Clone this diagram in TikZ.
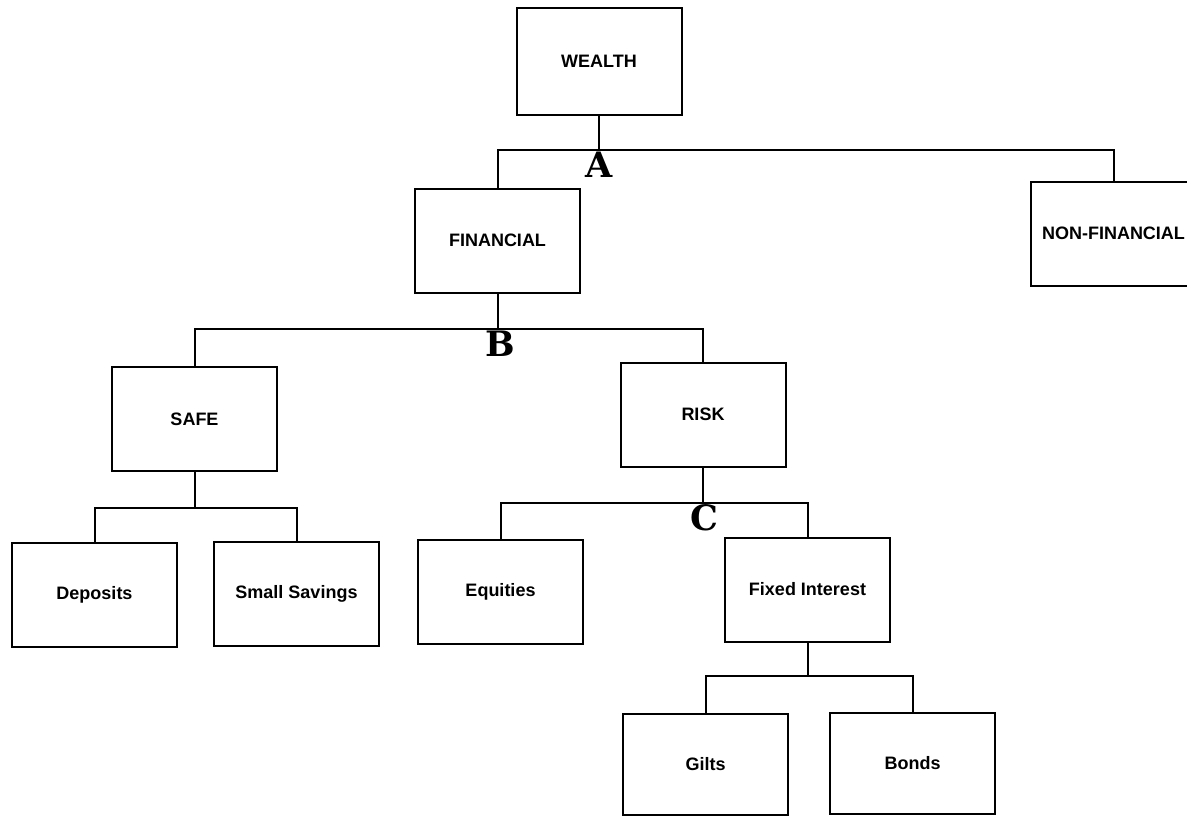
\documentclass[tikz,border=0pt]{standalone}
\usepackage{fontspec}
\setsansfont{Liberation Sans}
\newfontfamily\letterfont{DejaVu Serif}
\usetikzlibrary{positioning}

\begin{document}
\begin{tikzpicture}[x=1pt, y=-1pt, line width=2pt,
		box/.style={draw, line width=2pt, minimum width=165pt, minimum height=104pt,
			font=\sffamily\bfseries\fontsize{18}{21}\selectfont},
		letter/.style={font=\letterfont\bfseries\fontsize{35}{40}\selectfont, inner sep=1pt}]
			%%%%% START %%%%%
			
			\clip (0, 0) rectangle (1187, 817);
			
			\node[box, minimum height=107pt] (wealth) at (599, 61.5) {WEALTH};
			\node[box] (financial) at (497.5, 240.5) {FINANCIAL};
			\node[box] (nonfin) at (1113.5, 233.5) {NON-FINANCIAL};
			
			\node[box] (safe) at (194.5, 419) {SAFE};
			\node[box] (risk) at (703, 414.5) {RISK};
			
			\node[box] (deposits) at (94.5, 595) {Deposits};
			\node[box] (smallsav) at (296.5, 593.5) {Small Savings};
			\node[box] (equities) at (500.5, 591.5) {Equities};
			\node[box] (fixed) at (807.5, 589.5) {Fixed Interest};
			
			\node[box, minimum height=101pt] (gilts) at (705.5, 764.5) {Gilts};
			\node[box, minimum height=101pt] (bonds) at (912.5, 763.5) {Bonds};
			
			% bus lines
			\coordinate (busA) at (599, 150);
			\coordinate (busB) at (497.5, 329);
			\coordinate (busC) at (704, 503);
			\coordinate (busSafe) at (194.5, 508);
			\coordinate (busFixed) at (807.5, 676);
			
			\draw (wealth.south) -- (busA);
			\draw (financial.north) |- (busA) -| (nonfin.north);
			
			\draw (financial.south) -- (busB);
			\draw (safe.north) |- (busB) -| (risk.north);
			
			\draw (risk.south) -- (risk.south |- busC);
			\draw (equities.north) |- (busC) -| (fixed.north);
			
			\draw (safe.south) -- (busSafe);
			\draw (deposits.north) |- (busSafe) -| (smallsav.north);
			
			\draw (fixed.south) -- (busFixed);
			\draw (gilts.north) |- (busFixed) -| (bonds.north);
			
			\node[letter, below=0pt of busA] (labA) {A};
			\node[letter, below=0pt of busB, xshift=2.5pt] (labB) {B};
			\node[letter, below=0pt of busC] (labC) {C};
			
			%%%%% END %%%%%
\end{tikzpicture}
\end{document}
